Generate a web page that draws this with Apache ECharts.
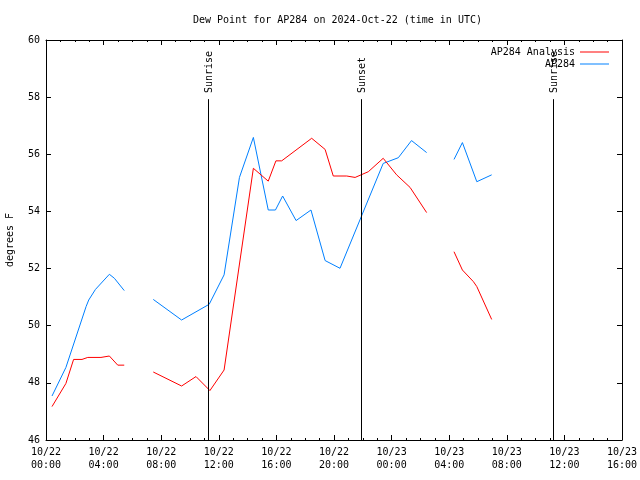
<!DOCTYPE html>
<html>
<head>
<meta charset="utf-8">
<script src="https://cdn.jsdelivr.net/npm/echarts@6/dist/echarts.min.js"></script>
<style>
html,body{margin:0;padding:0;background:#fff;}
#c{width:640px;height:480px;}
</style>
</head>
<body>
<div id="c"></div>
<script>
// ---- data (times in UTC; null = gap in record) ----
const titleText = "Dew Point for AP284 on 2024-Oct-22 (time in UTC)";
const seriesNames = ["AP284 Analysis", "AP284"];

const analysisTimes = ["10/22 00:25","10/22 01:23","10/22 01:55","10/22 02:30","10/22 02:54","10/22 03:49","10/22 04:24","10/22 04:59","10/22 05:26","10/22 06:30",
  "10/22 07:27","10/22 09:25","10/22 10:25","10/22 11:23","10/22 12:22","10/22 14:24","10/22 15:26","10/22 15:58","10/22 16:22","10/22 18:27",
  "10/22 19:23","10/22 19:57","10/22 20:53","10/22 21:28","10/22 22:23","10/22 23:25","10/23 00:21","10/23 01:17","10/23 02:26","10/23 03:20",
  "10/23 04:20","10/23 04:55","10/23 05:41","10/23 05:55","10/23 06:57"];
const analysisValues = [47.17,47.98,48.82,48.82,48.89,48.89,48.94,48.62,48.62,null,
  48.38,47.89,48.22,47.73,48.45,55.51,55.06,55.77,55.77,56.56,
  56.17,55.24,55.24,55.19,55.39,55.86,55.28,54.84,53.96,null,
  52.59,51.95,51.54,51.37,50.22];

const obsTimes = ["10/22 00:25","10/22 01:23","10/22 02:47","10/22 02:58","10/22 03:26","10/22 04:24","10/22 04:45","10/22 05:26","10/22 06:30",
  "10/22 07:27","10/22 09:25","10/22 11:20","10/22 12:22","10/22 13:26","10/22 14:24","10/22 15:26","10/22 15:56","10/22 16:26","10/22 17:22",
  "10/22 18:24","10/22 19:23","10/22 20:25","10/22 23:25","10/23 00:28","10/23 01:23","10/23 02:26","10/23 03:20",
  "10/23 04:20","10/23 04:55","10/23 05:55","10/23 06:57"];
const obsValues = [47.54,48.54,50.67,50.90,51.27,51.80,51.66,51.23,null,
  50.92,50.20,50.75,51.78,55.19,56.59,54.05,54.05,54.54,53.68,
  54.05,52.28,52.01,55.68,55.88,56.48,56.06,null,
  55.82,56.41,55.04,55.28];

const sunLabels = ["Sunrise","Sunset","Sunrise"];
const sunTimes = ["10/22 11:15","10/22 21:52","10/23 11:13"];
const sunLineTop = 57.93;

const xTickHours = [0,4,8,12,16,20,24,28,32,36,40];
const yTicks = [46,48,50,52,54,56,58,60];

// ---- helpers ----
function toHours(s){
  const m = s.match(/(\d+)\/(\d+) (\d+):(\d+)/);
  return (parseInt(m[2]) - 22) * 24 + parseInt(m[3]) + parseInt(m[4]) / 60;
}
function build(times, vals){
  return times.map((t, i) => [toHours(t), vals[i] === null ? '-' : vals[i]]);
}
function pad(n){ return (n < 10 ? '0' : '') + n; }

const FONT = "DejaVu Sans Mono";
const RED = '#ff0000', BLUE = '#0080ff';
const chart = echarts.init(document.getElementById('c'), null, {renderer: 'canvas'});

const axisCommon = {
  axisLine: {show: true, onZero: false, lineStyle: {color: '#000', width: 1}},
  splitLine: {show: false}
};

const option = {
  animation: false,
  backgroundColor: '#fff',
  textStyle: {fontFamily: FONT},
  title: {
    text: titleText, left: 188, top: 10,
    textStyle: {fontFamily: FONT, fontSize: 10, fontWeight: 'normal', color: '#000'}
  },
  legend: {
    orient: 'vertical', right: 26, top: 41, align: 'right',
    icon: 'rect', itemWidth: 29, itemHeight: 1, itemGap: 0,
    data: seriesNames.map((n, i) => ({name: n, itemStyle: {color: i === 0 ? RED : BLUE}})),
    textStyle: {fontFamily: FONT, fontSize: 10, color: '#000', lineHeight: 12}
  },
  grid: {left: 46, right: 18, top: 40, bottom: 40, containLabel: false, outerBoundsMode: 'none'},
  xAxis: [{
    type: 'value', min: 0, max: 40, interval: 4, position: 'bottom',
    ...axisCommon,
    axisTick: {show: true, inside: true, length: 5, lineStyle: {color: '#000'}},
    minorTick: {show: true, splitNumber: 4, length: 2, lineStyle: {color: '#000'}},
    axisLabel: {
      fontFamily: FONT, fontSize: 10, color: '#000', margin: 6, lineHeight: 13,
      formatter: function(v){
        if (xTickHours.indexOf(v) < 0) return '';
        const day = 22 + Math.floor(v / 24);
        return '10/' + day + '\n' + pad(v % 24) + ':00';
      }
    }
  }, {
    type: 'value', min: 0, max: 40, interval: 4, position: 'top',
    ...axisCommon,
    axisTick: {show: true, inside: true, length: 5, lineStyle: {color: '#000'}},
    minorTick: {show: true, splitNumber: 4, length: 2, lineStyle: {color: '#000'}},
    axisLabel: {show: false}
  }],
  yAxis: [{
    type: 'value', min: 46, max: 60, interval: 2, position: 'left',
    name: 'degrees F', nameLocation: 'middle', nameGap: 31, nameRotate: 90,
    nameTextStyle: {fontFamily: FONT, fontSize: 10, color: '#000'},
    ...axisCommon,
    axisTick: {show: true, inside: true, length: 5, lineStyle: {color: '#000'}},
    axisLabel: {fontFamily: FONT, fontSize: 10, color: '#000', margin: 6}
  }, {
    type: 'value', min: 46, max: 60, interval: 2, position: 'right',
    ...axisCommon,
    axisTick: {show: true, inside: true, length: 5, lineStyle: {color: '#000'}},
    axisLabel: {show: false}
  }],
  series: [{
    name: seriesNames[0], type: 'line', xAxisIndex: 0, yAxisIndex: 0,
    data: build(analysisTimes, analysisValues),
    symbol: 'none', showSymbol: false, connectNulls: false,
    lineStyle: {color: RED, width: 1}, itemStyle: {color: RED},
    markLine: {
      silent: true, symbol: 'none', label: {show: false},
      lineStyle: {color: '#000', width: 1, type: 'solid'},
      data: sunTimes.map(t => [{coord: [toHours(t), 46]}, {coord: [toHours(t), sunLineTop]}])
    },
    z: 3
  }, {
    name: seriesNames[1], type: 'line', xAxisIndex: 0, yAxisIndex: 0,
    data: build(obsTimes, obsValues),
    symbol: 'none', showSymbol: false, connectNulls: false,
    lineStyle: {color: BLUE, width: 1}, itemStyle: {color: BLUE},
    z: 2
  }]
};
chart.setOption(option);

const graphics = sunTimes.map((t, i) => {
  const p = chart.convertToPixel({xAxisIndex: 0, yAxisIndex: 0}, [toHours(t), sunLineTop]);
  return {
    type: 'text', x: Math.round(p[0]) + 1, y: Math.round(p[1]) - 6, rotation: Math.PI / 2,
    style: {text: sunLabels[i], fontFamily: FONT, fontSize: 10, fill: '#000', align: 'left', verticalAlign: 'middle'},
    z: 10
  };
});
chart.setOption({graphic: graphics});
</script>
</body>
</html>
